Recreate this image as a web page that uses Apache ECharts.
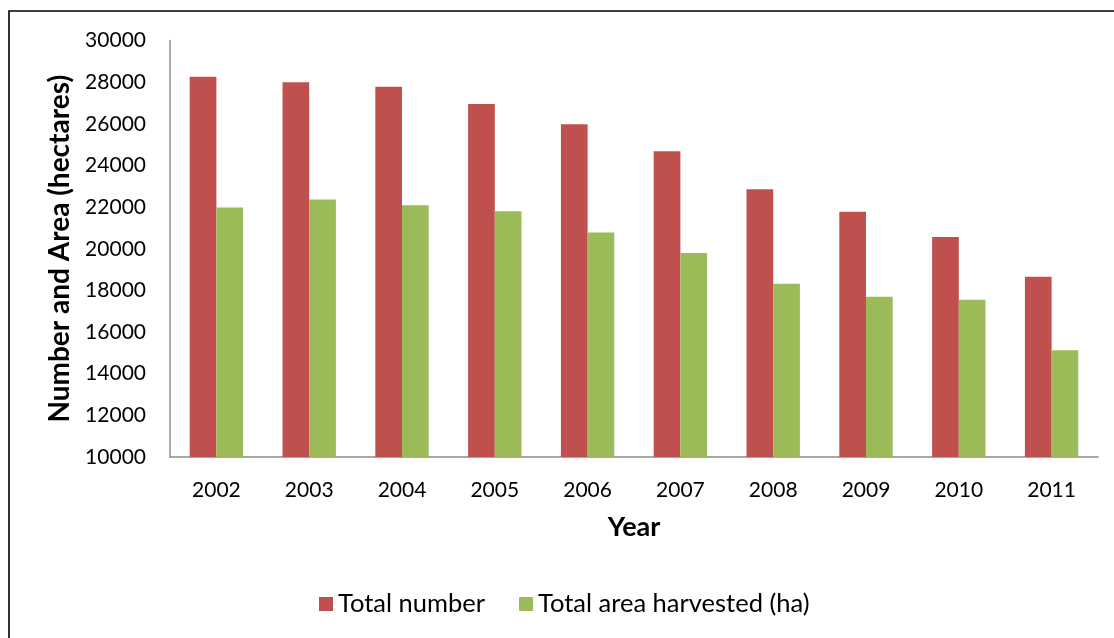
<!DOCTYPE html>
<html>
<head>
<meta charset="utf-8">
<title>Number and Area (hectares)</title>
<script src="https://cdn.jsdelivr.net/npm/echarts@6/dist/echarts.min.js"></script>
<style>
  html, body { margin: 0; padding: 0; background: #ffffff; }
  #chart { width: 1114px; height: 638px; }
</style>
</head>
<body>
<div id="chart"></div>
<script>
// Years on the category axis
const years = ['2002', '2003', '2004', '2005', '2006', '2007', '2008', '2009', '2010', '2011'];
// Total number per year
const totalNumber = [28260, 28000, 27780, 26950, 25980, 24680, 22860, 21780, 20570, 18650];
// Total area harvested (ha) per year
const totalArea = [21980, 22360, 22090, 21800, 20780, 19800, 18320, 17690, 17550, 15130];
// Value axis range
const yMin = 10000;
const yMax = 30000;
const yStep = 2000;

const FONT = 'Lato, "Open Sans", sans-serif';

const chart = echarts.init(document.getElementById('chart'), null, { renderer: 'canvas' });

chart.setOption({
  animation: false,
  backgroundColor: '#ffffff',
  graphic: [{
    type: 'rect',
    shape: { x: 9, y: 11, width: 1200, height: 700 },
    style: { fill: 'none', stroke: '#000000', lineWidth: 1.6 },
    silent: true
  }],
  grid: { left: 170, top: 40.5, right: 16, bottom: 181 },
  legend: {
    left: 314,
    top: 586,
    itemWidth: 14,
    itemHeight: 14,
    itemGap: 34,
    icon: 'rect',
    textStyle: { fontFamily: FONT, fontSize: 25.5, color: '#000000' },
    data: ['Total number', 'Total area harvested (ha)']
  },
  xAxis: {
    type: 'category',
    data: years,
    name: 'Year',
    nameLocation: 'middle',
    nameGap: 57,
    nameTextStyle: { fontFamily: FONT, fontSize: 27, fontWeight: 'bold', color: '#000000' },
    axisLine: { lineStyle: { color: '#8c8c8c', width: 1.5 } },
    axisTick: { show: false },
    axisLabel: { fontFamily: FONT, fontSize: 21, color: '#000000', margin: 23 }
  },
  yAxis: {
    type: 'value',
    min: yMin,
    max: yMax,
    interval: yStep,
    name: 'Number and Area (hectares)',
    nameLocation: 'middle',
    nameGap: 94,
    nameTextStyle: { fontFamily: FONT, fontSize: 28, fontWeight: 'bold', color: '#000000' },
    axisLine: { show: true, lineStyle: { color: '#8c8c8c', width: 1.5 } },
    axisTick: { show: false },
    splitLine: { show: false },
    axisLabel: {
      fontFamily: FONT, fontSize: 21, color: '#000000', margin: 24,
      formatter: (v) => String(v)
    }
  },
  series: [
    {
      name: 'Total number',
      type: 'bar',
      data: totalNumber,
      barGap: '0%',
      barCategoryGap: '42.5%',
      itemStyle: { color: '#C0504D' }
    },
    {
      name: 'Total area harvested (ha)',
      type: 'bar',
      data: totalArea,
      barGap: '0%',
      barCategoryGap: '42.5%',
      itemStyle: { color: '#9BBB59' }
    }
  ]
});
</script>
</body>
</html>
